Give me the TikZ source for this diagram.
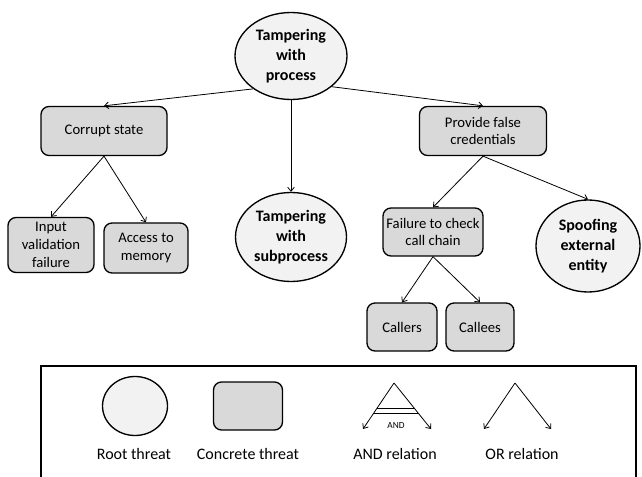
\documentclass[tikz,border=0pt]{standalone}
\usepackage{fontspec}
\setmainfont{Carlito}
\usetikzlibrary{arrows.meta,calc,shapes.geometric}
\newcommand\px{0.75pt}
\definecolor{root-color}{gray}{0.95}
\definecolor{concrete-color}{gray}{0.85}
\tikzset{
  root-threat/.style={ellipse, draw, line width=1pt, fill=root-color, inner sep=0,
    align=center, font=\fontsize{12}{15}\selectfont\bfseries},
  concrete-threat/.style={rectangle, rounded corners=6pt, draw, line width=1pt,
    fill=concrete-color, inner sep=0, align=center, font=\fontsize{11}{13.3}\selectfont},
  threat-link/.style={-{Straight Barb[length=3pt,width=5pt]}, line width=0.6pt},
  legend-text/.style={font=\fontsize{12}{14}\selectfont}
}
\begin{document}
\begin{tikzpicture}[x=\px, y=-\px]
    \useasboundingbox (0,0) rectangle (642,477);
    \clip (0,0) rectangle (642,477);
    % tree
    \node[root-threat, minimum width=112*\px, minimum height=87*\px] (root) at (291,56)
      {Tampering\\with\\process};
    \node[concrete-threat, minimum width=126*\px, minimum height=49*\px] (corrupt) at (104,131)
      {Corrupt state};
    \node[root-threat, minimum width=111*\px, minimum height=89*\px] (sub) at (291,237)
      {Tampering\\with\\subprocess};
    \node[concrete-threat, minimum width=127*\px, minimum height=49*\px] (provide) at (483,131)
      {Provide false\\credentials};
    \node[concrete-threat, minimum width=86*\px, minimum height=55*\px] (input) at (51,245)
      {Input\\validation\\failure};
    \node[concrete-threat, minimum width=84*\px, minimum height=50*\px] (access) at (146,248)
      {Access to\\memory};
    \node[concrete-threat, minimum width=100*\px, minimum height=48*\px] (failure) at (433,232)
      {Failure to check\\call chain};
    \node[root-threat, minimum width=104*\px, minimum height=92*\px] (spoof) at (588,246)
      {Spoofing\\external\\entity};
    \node[concrete-threat, minimum width=70*\px, minimum height=48*\px] (callers) at (402,327)
      {Callers};
    \node[concrete-threat, minimum width=68*\px, minimum height=48*\px] (callees) at (480,327)
      {Callees};
    \draw[threat-link] (root.221) -- (corrupt.north);
    \draw[threat-link] (root.south) -- (sub.north);
    \draw[threat-link] (root.-37) -- (provide.north);
    \draw[threat-link] (corrupt.south) -- (input.north);
    \draw[threat-link] (corrupt.south) -- (access.north);
    \draw[threat-link] (provide.south) -- (failure.north);
    \draw[threat-link] (provide.south) -- (spoof.north);
    \draw[threat-link] (failure.south) -- (callers.north);
    \draw[threat-link] (failure.south) -- (callees.north);
    % legend
    \draw[line width=1pt] (41,366) rectangle (636,500);
    \node[root-threat, minimum width=65*\px, minimum height=59*\px] (leg-root) at (135,406) {};
    \node[concrete-threat, minimum width=69*\px, minimum height=48*\px] (leg-concrete) at (248,406) {};
    \coordinate (and-top) at (394,383);
    \coordinate (and-left) at (363,429);
    \coordinate (and-right) at (431,429);
    \draw[threat-link] (and-top) -- (and-left);
    \draw[threat-link] (and-top) -- (and-right);
    \draw[line width=0.6pt] ($(and-top)!0.543!(and-left)$) -- ($(and-top)!0.543!(and-right)$);
    \draw[line width=0.6pt] ($(and-top)!0.652!(and-left)$) -- ($(and-top)!0.652!(and-right)$);
    \node[font=\fontsize{7}{8}\selectfont, inner sep=0] (and-mark) at (396,426) {AND};
    \coordinate (or-top) at (515,383);
    \coordinate (or-left) at (484,429);
    \coordinate (or-right) at (551,429);
    \draw[threat-link] (or-top) -- (or-left);
    \draw[threat-link] (or-top) -- (or-right);
    \node[legend-text] (leg-root-text) at (134,454) {Root threat};
    \node[legend-text] (leg-concrete-text) at (248,454) {Concrete threat};
    \node[legend-text] (leg-and-text) at (395,454) {AND relation};
    \node[legend-text] (leg-or-text) at (522,454) {OR relation};
  \end{tikzpicture}
\end{document}
